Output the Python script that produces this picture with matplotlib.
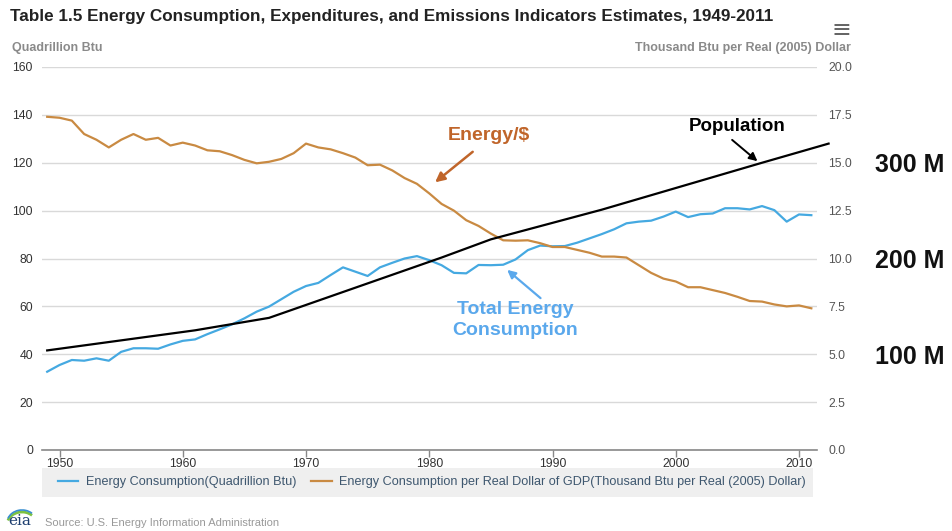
import matplotlib
matplotlib.use("Agg")
import matplotlib.pyplot as plt
from matplotlib.patches import Rectangle, Arc

plt.rcParams['font.family'] = ['Liberation Sans', 'DejaVu Sans']

# data
years = list(range(1949, 2012))
energy = [32.7, 35.5, 37.6, 37.3, 38.3, 37.3, 41.0, 42.5, 42.5, 42.3,
          44.1, 45.6, 46.2, 48.4, 50.4, 52.5, 55.0, 57.8, 59.9, 63.0,
          66.1, 68.5, 69.8, 73.1, 76.3, 74.5, 72.7, 76.3, 78.2, 80.0,
          81.0, 79.3, 77.2, 74.0, 73.8, 77.3, 77.2, 77.4, 79.6, 83.5,
          85.4, 85.1, 85.2, 86.6, 88.4, 90.2, 92.2, 94.7, 95.4, 95.8,
          97.5, 99.6, 97.3, 98.5, 98.8, 101.0, 101.0, 100.5, 101.9, 100.2,
          95.4, 98.4, 98.1]
energy_per_dollar = [17.4, 17.35, 17.2, 16.5, 16.2, 15.8, 16.2, 16.5, 16.2, 16.3,
                     15.9, 16.05, 15.9, 15.65, 15.6, 15.4, 15.15, 14.97, 15.05, 15.2,
                     15.5, 16.0, 15.8, 15.7, 15.5, 15.27, 14.87, 14.9, 14.6, 14.2,
                     13.9, 13.4, 12.85, 12.5, 12.0, 11.7, 11.3, 10.95, 10.93, 10.95,
                     10.8, 10.6, 10.6, 10.45, 10.3, 10.1, 10.1, 10.05, 9.65, 9.25,
                     8.95, 8.8, 8.5, 8.5, 8.35, 8.2, 8.0, 7.78, 7.75, 7.6,
                     7.5, 7.55, 7.4]
# hand drawn population line (millions, on the "M" scale at the right)
pop_years = [1949, 1961, 1967, 1981, 1985, 1994, 2007, 2012.4]
population = [104, 125, 138, 201, 220, 251, 300, 320]

blue = '#45a9e1'
orange = '#c98a42'
dark_orange = '#c0652a'
label_blue = '#5aa8ec'

fig = plt.figure(figsize=(9.52, 5.31), dpi=100)
ax = fig.add_axes([42/952, 1-450/531, 775/952, 383/531])
ax2 = ax.twinx()
ax3 = ax.twinx()

ax.set_xlim(1948.58, 2011.46)
ax.set_ylim(0, 160)
ax2.set_ylim(0, 20)
ax3.set_ylim(0, 400)

ax.set_yticks(range(0, 161, 20))
ax.yaxis.grid(True, color='#d9d9d9', lw=1)
ax.set_axisbelow(True)
ax.tick_params(axis='y', length=0, pad=6.5, labelsize=8.8, labelcolor='#333333')
ax.set_xticks(range(1950, 2011, 10))
ax.tick_params(axis='x', length=5, width=1, color='#888888', pad=1,
               labelsize=8.8, labelcolor='#333333')
for s in ['top', 'left', 'right']:
    ax.spines[s].set_visible(False)
ax.spines['bottom'].set_color('#888888')
ax.spines['bottom'].set_linewidth(1.2)

ax2.set_yticks([i * 2.5 for i in range(9)])
ax2.set_yticklabels(['%.1f' % (i * 2.5) for i in range(9)])
ax2.tick_params(axis='y', length=0, pad=8, labelsize=8.8, labelcolor='#555555')

ax3.set_yticks([100, 200, 300])
ax3.set_yticklabels(['100 M', '200 M', '300 M'], fontweight='bold')
ax3.tick_params(axis='y', length=0, pad=42, labelsize=18, labelcolor='#111111')
for a in (ax2, ax3):
    for s in a.spines.values():
        s.set_visible(False)

l1, = ax.plot(years, energy, color=blue, lw=1.6,
              label='Energy Consumption(Quadrillion Btu)')
l2, = ax2.plot(years, energy_per_dollar, color=orange, lw=1.6,
               label='Energy Consumption per Real Dollar of GDP(Thousand Btu per Real (2005) Dollar)')
ax3.plot(pop_years, population, color='black', lw=1.6, clip_on=False)

# annotations
ax.annotate('', xy=(1980.3, 111.1), xytext=(1983.7, 125.3),
            arrowprops=dict(arrowstyle='-|>', color=dark_orange, lw=1.8, mutation_scale=14))
ax.text(1984.8, 131.2, 'Energy/$', color=dark_orange, fontsize=14,
        fontweight='bold', ha='center', va='center')
ax.annotate('', xy=(2006.8, 119.9), xytext=(2004.4, 130.3),
            arrowprops=dict(arrowstyle='-|>', color='black', lw=1.4, mutation_scale=12))
ax.text(2005.0, 135.3, 'Population', color='black', fontsize=13.5,
        fontweight='bold', ha='center', va='center')
ax.annotate('', xy=(1986.15, 76.0), xytext=(1989.2, 62.7),
            arrowprops=dict(arrowstyle='-|>', color=label_blue, lw=1.6, mutation_scale=12))
ax.text(1987.0, 54.3, 'Total Energy\nConsumption', color=label_blue, fontsize=14,
        fontweight='bold', ha='center', va='center', linespacing=1.25)

# titles
fig.text(10/952, 1-17/531, 'Table 1.5 Energy Consumption, Expenditures, and Emissions Indicators Estimates, 1949-2011',
         fontsize=12.3, fontweight='bold', color='#222222', va='center')
fig.text(12/952, 1-48/531, 'Quadrillion Btu', fontsize=9, fontweight='bold',
         color='#8a8a8a', va='center')
fig.text(851/952, 1-48/531, 'Thousand Btu per Real (2005) Dollar', fontsize=9,
         fontweight='bold', color='#8a8a8a', va='center', ha='right')
fig.text(841/952, 1-30/531, '\u2261', fontsize=17, color='#666666',
         ha='center', va='center', family='DejaVu Sans')

# legend box
fig.patches.append(Rectangle((42/952, 1-497/531), 771/952, 29/531,
                             transform=fig.transFigure, facecolor='#efefef',
                             edgecolor='none', zorder=0))
fig.legend(handles=[l1, l2], loc='center', bbox_to_anchor=(432/952, 1-482/531),
           ncol=2, frameon=False, fontsize=9.1, handlelength=1.6,
           columnspacing=1.2, handletextpad=0.6, labelcolor='#3e576f')

# source line with a small eia mark
fig.text(45/952, 1-523/531, 'Source: U.S. Energy Information Administration',
         fontsize=8, color='#999999', va='center')
fig.text(20/952, 1-521/531, 'eia', fontsize=11, color='#1c3d6e',
         family='DejaVu Serif', ha='center', va='center')
fig.patches.append(Arc((22/952, 1-525/531), 30/952, 26/531, theta1=60, theta2=150,
                       transform=fig.transFigure, color='#7cc242', lw=2))
fig.patches.append(Arc((22/952, 1-523/531), 30/952, 26/531, theta1=60, theta2=150,
                       transform=fig.transFigure, color='#3a8fd0', lw=1.2))

fig.savefig('out.png', dpi=100)
